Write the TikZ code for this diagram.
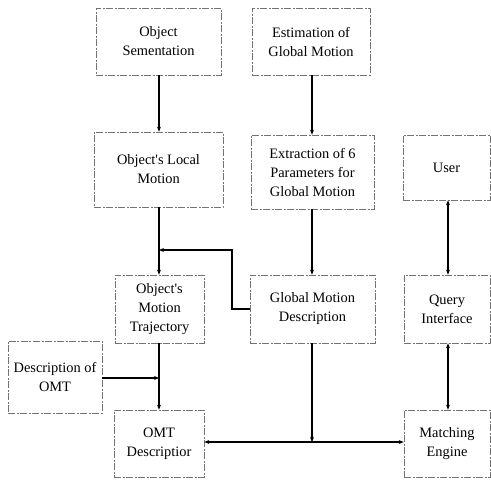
\documentclass[tikz,border=0pt]{standalone}
\usepackage{fontspec}
\setmainfont{Liberation Serif}
\usetikzlibrary{arrows.meta}
\begin{document}
\begin{tikzpicture}[x=1pt,y=-1pt,
  box/.style={draw=black!55, line width=0.6pt, dash pattern=on 7pt off 1.5pt on 2pt off 1.5pt,
    align=center, inner sep=0pt, font=\fontsize{14.4}{19}\selectfont, text=black},
  conn/.style={draw=black, line width=1.1pt, -{Stealth[length=5pt,width=4pt]}},
  dconn/.style={draw=black, line width=1.1pt, {Stealth[length=5pt,width=4pt]}-{Stealth[length=5pt,width=4pt]}},
  plain/.style={draw=black, line width=1.1pt}]
\useasboundingbox (0,0) rectangle (491,480);
% boxes: (x1,y1) rectangle (x2,y2)
\newcommand{\boxnode}[6]{\node[box, minimum width=#4-#2, minimum height=#5-#3] (#1) at ({(#2+#4)/2},{(#3+#5)/2}) {#6};}
\boxnode{seg}{96}{8}{221}{75}{Object\\Sementation}
\boxnode{est}{252}{8}{370}{75}{Estimation of\\Global Motion}
\boxnode{loc}{94}{132}{223}{207}{Object\textquotesingle s Local\\Motion}
\boxnode{ext}{251}{135}{374}{209}{Extraction of 6\\Parameters for\\Global Motion}
\boxnode{user}{403}{135}{490}{200}{User}
\boxnode{traj}{115}{275}{204}{343}{Object\textquotesingle s\\Motion\\Trajectory}
\boxnode{gmd}{250}{275}{375}{343}{Global Motion\\Description}
\boxnode{qi}{404}{275}{490}{343}{Query\\Interface}
\boxnode{dom}{8}{341}{102}{413}{Description of\\OMT}
\boxnode{omt}{114}{410}{204}{477}{OMT\\Descriptior}
\boxnode{me}{404}{410}{490}{477}{Matching\\Engine}
% junction coordinates
\coordinate (j1) at (159,250);
\coordinate (j2) at (159,378);
\coordinate (j3) at (312,442);
\coordinate (c1) at (232,309);
\coordinate (c2) at (232,250);
% connectors
\draw[conn] (seg.south -| 159,0) -- (loc.north -| 159,0);
\draw[conn] (est.south -| 312,0) -- (ext.north -| 312,0);
\draw[conn] (ext.south -| 312,0) -- (gmd.north -| 312,0);
\draw[conn] (loc.south -| 159,0) -- (traj.north -| 159,0);
\draw[conn] (gmd.west |- c1) -- (c1) -- (c2) -- (j1);
\draw[dconn] (user.south -| 448,0) -- (qi.north -| 448,0);
\draw[dconn] (qi.south -| 448,0) -- (me.north -| 448,0);
\draw[conn] (traj.south -| 159,0) -- (omt.north -| 159,0);
\draw[conn] (dom.east |- j2) -- (j2);
\draw[dconn] (omt.east |- j3) -- (me.west |- j3);
\draw[conn] (gmd.south -| 312,0) -- (j3);
\end{tikzpicture}
\end{document}
